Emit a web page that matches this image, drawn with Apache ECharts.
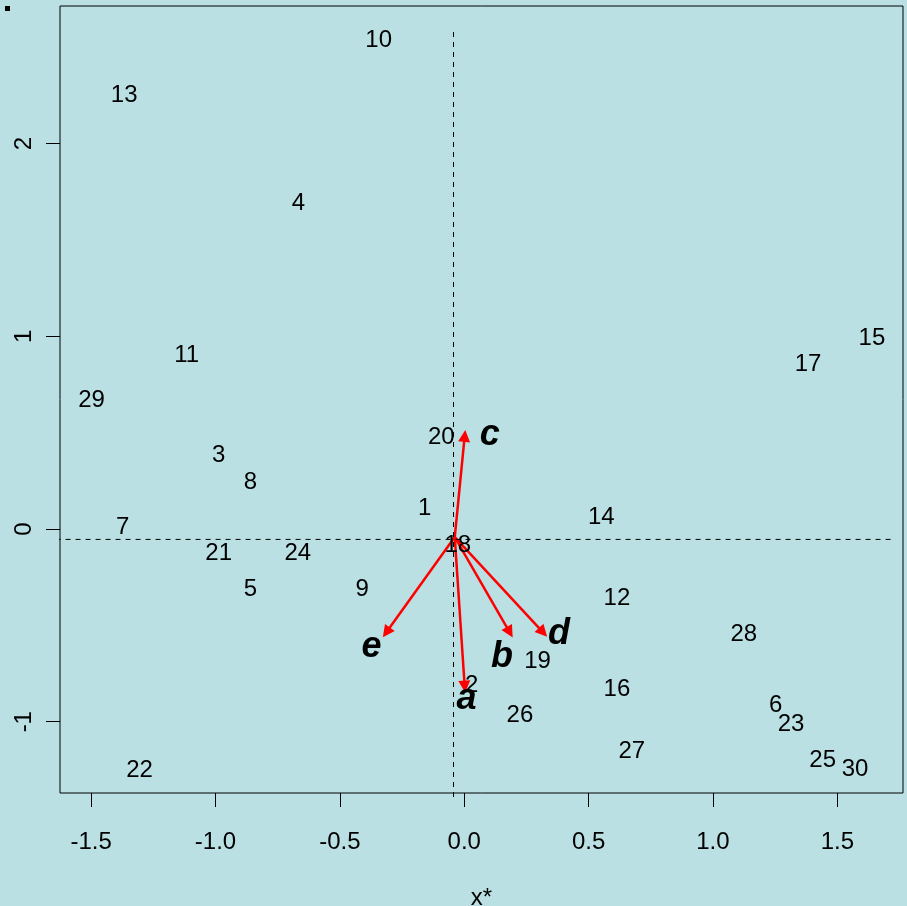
<!DOCTYPE html>
<html>
<head>
<meta charset="utf-8">
<script src="https://cdn.jsdelivr.net/npm/echarts@6/dist/echarts.min.js"></script>
<style>
html,body{margin:0;padding:0;background:#BAE0E3;overflow:hidden;}
#chart{width:907px;height:906px;}
</style>
</head>
<body>
<div id="chart"></div>
<script>
// Observation labels and their coordinates
const pointLabels = ['1','2','3','4','5','6','7','8','9','10','11','12','13','14','15','16','17','18','19','20','21','22','23','24','25','26','27','28','29','30'];
const pointX = [-0.159, 0.030, -0.987, -0.666, -0.859, 1.252, -1.373, -0.859, -0.410, -0.344, -1.116, 0.614, -1.367, 0.551, 1.639, 0.614, 1.382, -0.026, 0.295, -0.092, -0.987, -1.305, 1.314, -0.669, 1.441, 0.224, 0.674, 1.124, -1.498, 1.571];
const pointY = [0.116, -0.800, 0.394, 1.699, -0.301, -0.905, 0.021, 0.254, -0.304, 2.547, 0.913, -0.348, 2.261, 0.073, 1.002, -0.820, 0.867, -0.073, -0.676, 0.488, -0.114, -1.240, -1.003, -0.114, -1.192, -0.955, -1.142, -0.535, 0.680, -1.237];

// Variable arrows (from origin to tip) and their labels
const arrowNames = ['a','b','c','d','e'];
const arrowOrigin = [-0.038, -0.042];
const arrowTipX = [0.002, 0.183, 0.002, 0.317, -0.313];
const arrowTipY = [-0.818, -0.536, 0.483, -0.536, -0.536];
const arrowLabelX = [0.009, 0.152, 0.103, 0.381, -0.373];
const arrowLabelY = [-0.870, -0.654, 0.498, -0.533, -0.602];

// Dashed reference lines
const refVX = -0.043, refVY = [2.579, -1.406];
const refHY = -0.054, refHX = [-1.683, 1.720];

// Axis ticks
const xTicks = [-1.5, -1.0, -0.5, 0.0, 0.5, 1.0, 1.5];
const yTicks = [-1, 0, 1, 2];
const xTitle = 'x*';

const FONT = '"Liberation Sans", Arial, sans-serif';

const chart = echarts.init(document.getElementById('chart'), null, {renderer: 'canvas'});

const pointData = pointLabels.map((n, i) => ({name: n, value: [pointX[i], pointY[i]]}));
const arrowData = arrowNames.map((n, i) => ({coords: [arrowOrigin, [arrowTipX[i], arrowTipY[i]]]}));
const arrowLabelData = arrowNames.map((n, i) => ({name: n, value: [arrowLabelX[i], arrowLabelY[i]]}));

const option = {
  backgroundColor: '#BAE0E3',
  animation: false,
  textStyle: {fontFamily: FONT},
  grid: {
    left: 60, right: 4, top: 6, bottom: 113,
    outerBoundsMode: 'none', containLabel: false,
    show: true, borderColor: '#000', borderWidth: 1, backgroundColor: 'transparent'
  },
  xAxis: {
    type: 'value', min: -1.625, max: 1.764,
    name: xTitle, nameLocation: 'middle', nameGap: 93,
    nameTextStyle: {fontSize: 24, color: '#000', fontFamily: FONT},
    axisLine: {show: false, onZero: false},
    splitLine: {show: false},
    axisTick: {show: true, length: 14, lineStyle: {color: '#000', width: 1}, customValues: xTicks},
    axisLabel: {
      show: true, margin: 37, fontSize: 24, color: '#000', fontFamily: FONT,
      customValues: xTicks,
      formatter: v => (Math.abs(v) < 1e-9 ? 0 : v).toFixed(1)
    }
  },
  yAxis: {
    type: 'value', min: -1.370, max: 2.714,
    axisLine: {show: false, onZero: false},
    splitLine: {show: false},
    axisTick: {show: true, length: 14, lineStyle: {color: '#000', width: 1}, customValues: yTicks},
    axisLabel: {
      show: true, margin: 24, fontSize: 24, color: '#000', fontFamily: FONT, rotate: 90,
      customValues: yTicks,
      formatter: v => String(Math.round(v))
    }
  },
  graphic: [{
    type: 'rect', left: 5, top: 6, shape: {width: 5, height: 5}, style: {fill: '#000'}, silent: true
  }],
  series: [
    {
      type: 'line', data: [[refVX, refVY[0]], [refVX, refVY[1]]],
      symbol: 'none', clip: false, silent: true,
      lineStyle: {color: '#000', width: 1, type: [5, 5]}
    },
    {
      type: 'line', data: [[refHX[0], refHY], [refHX[1], refHY]],
      symbol: 'none', clip: false, silent: true,
      lineStyle: {color: '#000', width: 1, type: [5, 5]}
    },
    {
      type: 'scatter', data: pointData, symbolSize: 0, silent: true,
      itemStyle: {color: '#000', opacity: 1},
      label: {show: true, position: [0, 2], align: 'center', verticalAlign: 'middle', formatter: p => p.name, fontSize: 24, color: '#000', opacity: 1, textBorderWidth: 0, fontFamily: FONT}
    },
    {
      type: 'lines', coordinateSystem: 'cartesian2d', data: arrowData, silent: true,
      symbol: ['none', 'triangle'], symbolSize: [10, 12],
      lineStyle: {color: '#FF0000', width: 2.5, opacity: 1, curveness: 0}
    },
    {
      type: 'scatter', data: arrowLabelData, symbolSize: 0, silent: true,
      itemStyle: {color: '#000', opacity: 1},
      label: {show: true, position: [0, 2], align: 'center', verticalAlign: 'middle', formatter: p => p.name, fontSize: 36, fontWeight: 'bold', fontStyle: 'italic', color: '#000', opacity: 1, textBorderWidth: 0, fontFamily: FONT}
    }
  ]
};
chart.setOption(option);
</script>
</body>
</html>
